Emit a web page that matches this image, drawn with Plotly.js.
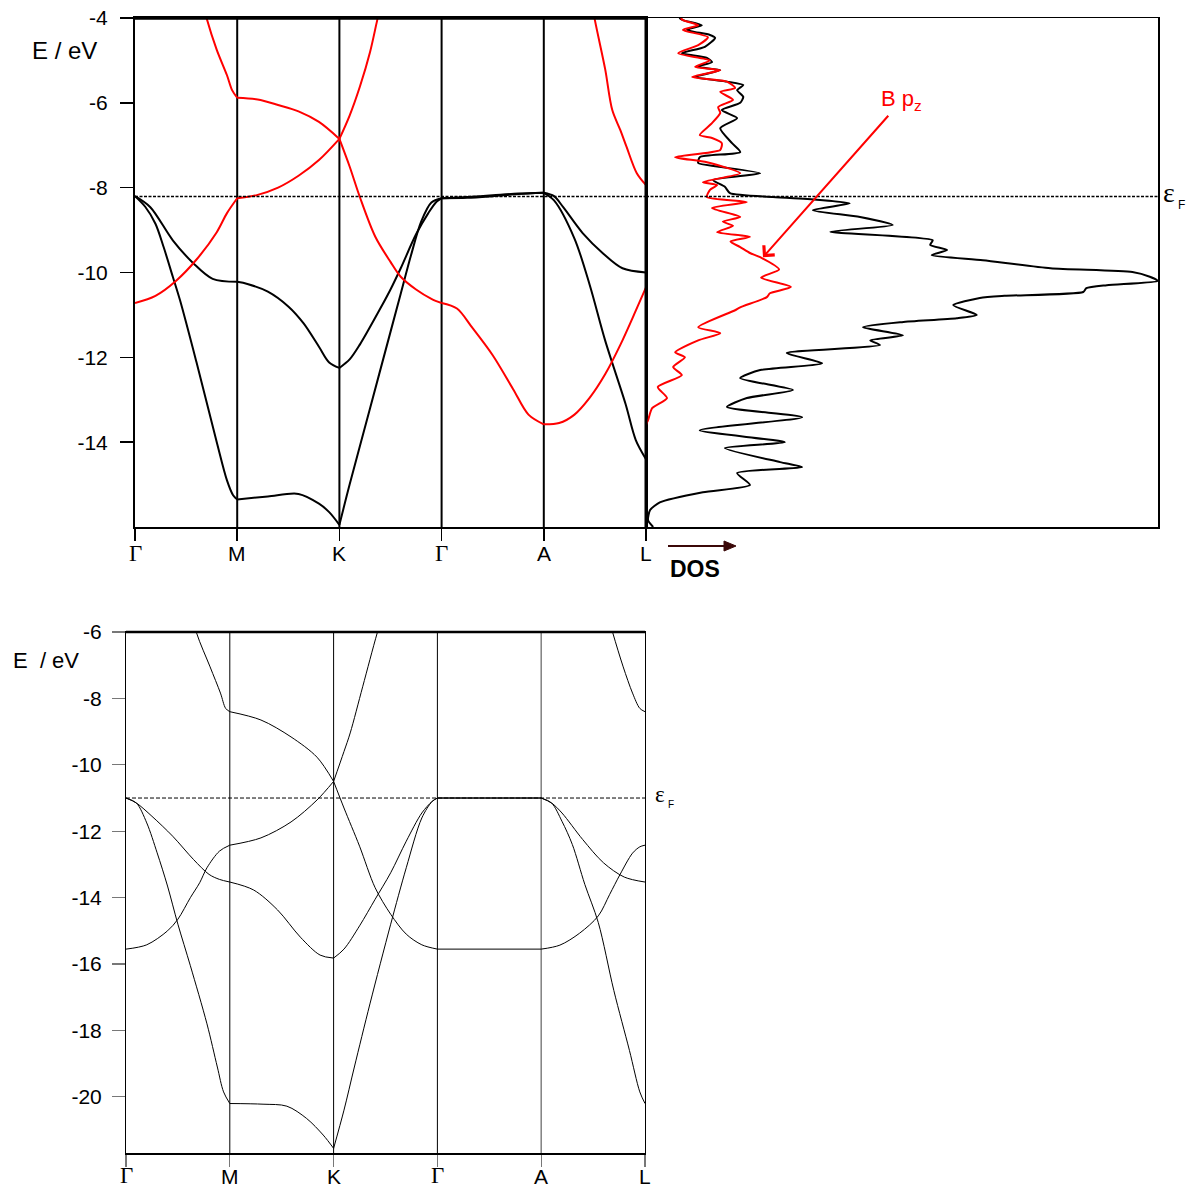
<!DOCTYPE html>
<html>
<head>
<meta charset="utf-8">
<script src="https://cdn.plot.ly/plotly-3.0.1.min.js"></script>
<style>
  html, body { margin: 0; padding: 0; background: #fff; }
  #chart { width: 1191px; height: 1189px; }
</style>
</head>
<body>
<div id="chart"></div>
<script>
// High-symmetry path Γ–M–K–Γ–A–L
const kTicks = [0, 1, 2, 3, 4, 5];
const kLabels = ['Γ', 'M', 'K', 'Γ', 'A', 'L'];
const eTicksTop = [-14, -12, -10, -8, -6, -4];
const eTicksBottom = [-20, -18, -16, -14, -12, -10, -8, -6];
const eFermiTop = -8.21;
const eFermiBottom = -11.0;

// ---- Upper band structure: σ bands (black) ----
const topSigma1K = [0, 0.1, 0.2, 0.28, 0.37, 0.44, 0.6, 0.8, 0.9, 0.96, 1.0, null,
                    1.0, 1.3, 1.6, 1.8, 1.9, 2.0, null,
                    2.0, 2.1, 2.3, 2.5, 2.6, 2.7, 2.8, 2.9, 3.0, null,
                    3.0, 3.25, 3.5, 3.75, 4.0, null,
                    4.0, 4.1, 4.3, 4.45, 4.6, 4.8, 4.9, 5.0];
const topSigma1E = [-8.2, -8.45, -8.85, -9.4, -10.1, -10.65, -12.1, -14.0, -14.9, -15.25, -15.35, null,
                    -15.35, -15.28, -15.22, -15.45, -15.65, -15.95, null,
                    -15.95, -15.0, -13.2, -11.4, -10.5, -9.6, -8.8, -8.35, -8.25, null,
                    -8.25, -8.24, -8.2, -8.15, -8.12, null,
                    -8.12, -8.3, -9.2, -10.3, -11.6, -13.1, -13.95, -14.4];
const topSigma2K = [0, 0.15, 0.37, 0.57, 0.76, 1.0, null,
                    1.0, 1.1, 1.3, 1.5, 1.65, 1.8, 1.9, 2.0, null,
                    2.0, 2.1, 2.2, 2.4, 2.5, 2.6, 2.75, 2.87, 2.95, 3.0, null,
                    3.0, 3.25, 3.5, 3.75, 4.0, null,
                    4.0, 4.1, 4.19, 4.38, 4.58, 4.77, 5.0];
const topSigma2E = [-8.2, -8.46, -9.24, -9.78, -10.15, -10.22, null,
                    -10.22, -10.27, -10.45, -10.8, -11.2, -11.75, -12.12, -12.25, null,
                    -12.25, -12.05, -11.7, -10.85, -10.4, -9.9, -9.1, -8.6, -8.33, -8.25, null,
                    -8.25, -8.22, -8.18, -8.14, -8.12, null,
                    -8.12, -8.2, -8.46, -9.07, -9.55, -9.9, -10.0];

// ---- Upper band structure: π bands (red) ----
const topPi1K = [0, 0.2, 0.4, 0.6, 0.8, 0.9, 1.0, null,
                 1.0, 1.2, 1.4, 1.6, 1.8, 2.0, null,
                 2.0, 2.1, 2.2, 2.3, 2.37, 2.45];
const topPi1E = [-10.72, -10.55, -10.2, -9.7, -9.05, -8.6, -8.25, null,
                 -8.25, -8.17, -8.0, -7.72, -7.35, -6.85, null,
                 -6.85, -6.3, -5.62, -4.8, -4.05, -3.2];
const topPi2K = [0.64, 0.7, 0.8, 0.9, 0.95, 1.0, null,
                 1.0, 1.2, 1.4, 1.6, 1.8, 2.0, null,
                 2.0, 2.1, 2.2, 2.35, 2.5, 2.6, 2.75, 2.9, 3.0, null,
                 3.0, 3.15, 3.3, 3.5, 3.7, 3.85, 4.0, null,
                 4.0, 4.15, 4.3, 4.45, 4.6, 4.75, 4.9, 5.0];
const topPi2E = [-3.4, -4.0, -4.75, -5.35, -5.7, -5.88, null,
                 -5.88, -5.92, -6.05, -6.2, -6.45, -6.85, null,
                 -6.85, -7.5, -8.22, -9.15, -9.75, -10.1, -10.4, -10.62, -10.72, null,
                 -10.72, -10.85, -11.3, -11.95, -12.75, -13.35, -13.58, null,
                 -13.58, -13.55, -13.35, -12.95, -12.4, -11.7, -10.9, -10.35];
const topPi3K = [4.42, 4.5, 4.6, 4.67, 4.75, 4.81, 4.91, 5.0];
const topPi3E = [-3.0, -4.05, -5.2, -6.17, -6.65, -7.04, -7.66, -7.94];

// ---- Density of states (arbitrary units, 0–100) ----
const dosTotalE = [-4.0, -4.05, -4.17, -4.28, -4.4, -4.47, -4.68, -4.83, -4.94, -5.04, -5.15, -5.23,
  -5.39, -5.5, -5.58, -5.7, -5.86, -6.0, -6.17, -6.36, -6.6, -6.95, -7.16, -7.28, -7.42, -7.5,
  -7.66, -7.82, -7.98, -8.13, -8.22, -8.29, -8.37, -8.53, -8.69, -8.88, -9.04, -9.24, -9.35,
  -9.47, -9.59, -9.71, -9.9, -9.99, -10.1, -10.2, -10.3, -10.37, -10.46, -10.55, -10.6, -10.77,
  -11.0, -11.08, -11.17, -11.29, -11.48, -11.6, -11.71, -11.9, -12.14, -12.3, -12.49, -12.77,
  -12.96, -13.17, -13.41, -13.72, -14.0, -14.14, -14.47, -14.59, -14.73, -15.01, -15.18, -15.42,
  -15.6, -15.84, -16.0];
const dosTotal = [6.5, 7.2, 10.9, 8.0, 12.5, 13.5, 11.5, 7.0, 11.9, 12.9, 10.0, 14.5,
  9.6, 15.8, 19.0, 17.8, 19.0, 18.4, 14.8, 17.8, 14.5, 16.8, 18.4, 10.5, 10.2, 13.9,
  22.3, 13.1, 15.4, 16.4, 24.8, 34.0, 39.8, 32.6, 41.8, 48.2, 36.0, 56.0, 55.5,
  58.8, 55.8, 65.8, 79.0, 95.0, 98.4, 100, 90.0, 86.0, 85.4, 70.0, 65.2, 60.0,
  64.6, 60.7, 50.0, 42.4, 50.2, 43.8, 45.7, 27.5, 34.4, 22.3, 18.4, 28.7,
  19.7, 15.8, 30.5, 10.5, 27.1, 15.4, 26.2, 30.5, 17.8, 20.3, 11.1, 2.7,
  0.8, 0.4, 1.4];
const dosBpzE = [-4.0, -4.05, -4.17, -4.28, -4.45, -4.64, -4.83, -5.0, -5.15, -5.23, -5.39, -5.5,
  -5.65, -5.74, -5.93, -6.1, -6.24, -6.5, -6.76, -6.83, -6.95, -7.11, -7.28, -7.4, -7.66, -7.87,
  -7.94, -8.05, -8.22, -8.34, -8.48, -8.69, -8.8, -8.9, -9.05, -9.16, -9.27, -9.4, -9.54, -9.64,
  -9.93, -10.12, -10.34, -10.49, -10.58, -10.82, -10.89, -11.29, -11.43, -11.6, -11.88, -12.0,
  -12.23, -12.42, -12.7, -12.96, -13.2, -13.48, -13.6, -16.0];
const dosBpz = [6.8, 7.2, 10.2, 7.2, 12.1, 10.2, 6.3, 12.5, 9.6, 14.5, 9.0, 15.8,
  17.4, 14.5, 17.0, 14.1, 14.5, 12.7, 10.5, 12.9, 14.8, 14.5, 5.7, 11.9, 18.4, 11.1,
  13.9, 12.5, 11.9, 19.7, 12.9, 18.4, 15.0, 17.0, 13.9, 20.3, 16.5, 18.4, 20.3, 22.3,
  26.0, 22.5, 28.3, 24.2, 23.6, 18.4, 17.4, 10.2, 14.5, 10.2, 5.7, 7.6,
  5.3, 7.0, 2.3, 4.1, 1.2, 0.4, 0, 0];

// ---- Lower band structure ----
const botBand1K = [0.6, 0.68, 0.81, 0.91, 0.96, 1.0, null,
                   1.0, 1.3, 1.59, 1.84, 2.0, null,
                   2.0, 2.1, 2.25, 2.4, 2.55, 2.7, 2.85, 3.0, null,
                   3.0, 4.0, null,
                   4.0, 4.18, 4.37, 4.55, 4.66, 4.76, 4.88, 4.95, 5.0];
const botBand1E = [-5.0, -6.03, -7.05, -7.84, -8.3, -8.4, null,
                   -8.4, -8.65, -9.16, -9.77, -10.5, null,
                   -10.5, -11.3, -12.45, -13.7, -14.5, -15.1, -15.42, -15.55, null,
                   -15.55, -15.55, null,
                   -15.55, -15.43, -15.07, -14.55, -13.9, -13.3, -12.66, -12.47, -12.42];
const botBand2K = [0, 0.2, 0.4, 0.5, 0.62, 0.71, 0.78, 0.9, 1.0, null,
                   1.0, 1.3, 1.59, 1.84, 2.0, null,
                   2.0, 2.1, 2.16, 2.28, 2.42, 2.52];
const botBand2E = [-15.55, -15.42, -15.0, -14.65, -14.0, -13.55, -13.1, -12.6, -12.42, null,
                   -12.42, -12.2, -11.72, -11.06, -10.5, null,
                   -10.5, -9.6, -9.04, -7.65, -6.03, -5.0];
const botBand3K = [0, 0.1, 0.2, 0.3, 0.4, 0.5, 0.62, 0.78, 0.88, 0.94, 1.0, null,
                   1.0, 1.32, 1.55, 1.74, 1.9, 2.0, null,
                   2.0, 2.1, 2.2, 2.35, 2.55, 2.7, 2.85, 2.95, 3.0, null,
                   3.0, 4.0, null,
                   4.0, 4.1, 4.2, 4.3, 4.42, 4.55, 4.7, 4.85, 4.95, 5.0];
const botBand3E = [-11.0, -11.15, -11.75, -12.65, -13.65, -14.8, -16.05, -17.8, -19.1, -19.85, -20.2, null,
                   -20.2, -20.22, -20.28, -20.65, -21.15, -21.55, null,
                   -21.55, -20.4, -19.1, -17.2, -14.8, -13.1, -11.6, -11.1, -11.0, null,
                   -11.0, -11.0, null,
                   -11.0, -11.15, -11.7, -12.4, -13.6, -14.75, -16.8, -18.6, -19.85, -20.2];
const botBand4K = [0, 0.1, 0.25, 0.45, 0.65, 0.8, 0.9, 1.0, null,
                   1.0, 1.23, 1.46, 1.68, 1.87, 2.0, null,
                   2.0, 2.1, 2.25, 2.4, 2.55, 2.7, 2.85, 2.95, 3.0, null,
                   3.0, 4.0, null,
                   4.0, 4.1, 4.2, 4.4, 4.6, 4.8, 5.0];
const botBand4E = [-11.0, -11.15, -11.55, -12.15, -12.85, -13.3, -13.45, -13.53, null,
                   -13.53, -13.77, -14.37, -15.19, -15.73, -15.82, null,
                   -15.82, -15.55, -14.85, -14.05, -13.25, -12.3, -11.45, -11.1, -11.0, null,
                   -11.0, -11.0, null,
                   -11.0, -11.15, -11.45, -12.25, -12.95, -13.38, -13.53];
const botBand5K = [4.6, 4.69, 4.79, 4.88, 4.95, 5.0];
const botBand5E = [-5.0, -6.03, -7.05, -7.84, -8.3, -8.4];

const FONT = 'Liberation Sans, Arial, sans-serif';
const SERIF = 'Liberation Serif, Times New Roman, serif';
const RED = '#ff0000';

function band(k, e, color, width, xa, ya) {
  return {
    x: k, y: e, xaxis: xa, yaxis: ya, type: 'scatter', mode: 'lines',
    line: { color: color, width: width, shape: 'spline', smoothing: 0.9 },
    connectgaps: false, hoverinfo: 'skip', showlegend: false
  };
}

const traces = [
  band(topSigma1K, topSigma1E, '#000', 2, 'x', 'y'),
  band(topSigma2K, topSigma2E, '#000', 2, 'x', 'y'),
  band(topPi1K, topPi1E, RED, 2, 'x', 'y'),
  band(topPi2K, topPi2E, RED, 2, 'x', 'y'),
  band(topPi3K, topPi3E, RED, 2, 'x', 'y'),
  {
    x: dosTotal, y: dosTotalE, xaxis: 'x2', yaxis: 'y2', type: 'scatter', mode: 'lines',
    line: { color: '#000', width: 2, shape: 'spline', smoothing: 0.6 }, hoverinfo: 'skip', showlegend: false
  },
  {
    x: dosBpz, y: dosBpzE, xaxis: 'x2', yaxis: 'y2', type: 'scatter', mode: 'lines',
    line: { color: RED, width: 2, shape: 'spline', smoothing: 0.6 }, hoverinfo: 'skip', showlegend: false
  },
  band(botBand1K, botBand1E, '#000', 1, 'x3', 'y3'),
  band(botBand2K, botBand2E, '#000', 1, 'x3', 'y3'),
  band(botBand3K, botBand3E, '#000', 1, 'x3', 'y3'),
  band(botBand4K, botBand4E, '#000', 1, 'x3', 'y3'),
  band(botBand5K, botBand5E, '#000', 1, 'x3', 'y3')
];

const W = 1191, H = 1189;
const px = v => v / W;
const py = v => 1 - v / H;

const shapes = [];
// vertical lines at interior high-symmetry points
kTicks.slice(1, 5).forEach(k => {
  shapes.push({ type: 'line', xref: 'x', yref: 'y domain', x0: k, x1: k, y0: 0, y1: 1,
                line: { color: '#000', width: 2 }, layer: 'below' });
  shapes.push({ type: 'line', xref: 'x3', yref: 'y3 domain', x0: k, x1: k, y0: 0, y1: 1,
                line: { color: k === 4 ? '#808080' : '#000', width: k === 4 ? 1.5 : 1 }, layer: 'below' });
});
// Fermi levels
shapes.push({ type: 'line', xref: 'x', yref: 'y', x0: 0, x1: 5, y0: eFermiTop, y1: eFermiTop,
              line: { color: '#000', width: 1.5, dash: '3px,1.5px' } });
shapes.push({ type: 'line', xref: 'x2', yref: 'y2', x0: 0, x1: 100, y0: eFermiTop, y1: eFermiTop,
              line: { color: '#000', width: 1.5, dash: '3px,1.5px' } });
shapes.push({ type: 'line', xref: 'x3', yref: 'y3', x0: 0, x1: 5, y0: eFermiBottom, y1: eFermiBottom,
              line: { color: '#000', width: 1, dash: '4px,2px' } });
// heavier frame edges
shapes.push({ type: 'line', xref: 'x domain', yref: 'y domain', x0: 0, x1: 1, y0: 1, y1: 1,
              line: { color: '#000', width: 3.5 } });
shapes.push({ type: 'line', xref: 'x3 domain', yref: 'y3 domain', x0: 0, x1: 1, y0: 1, y1: 1,
              line: { color: '#000', width: 2.5 } });
shapes.push({ type: 'line', xref: 'x domain', yref: 'y domain', x0: 1, x1: 1, y0: 0, y1: 1,
              line: { color: '#000', width: 3 } });
// DOS direction arrow
shapes.push({ type: 'line', xref: 'paper', yref: 'paper', x0: px(668), x1: px(726), y0: py(546), y1: py(546),
              line: { color: '#3b0808', width: 2 } });
shapes.push({ type: 'path', xref: 'paper', yref: 'paper',
              path: 'M ' + px(736) + ',' + py(546) + ' L ' + px(724) + ',' + py(541) + ' L ' + px(724) + ',' + py(551) + ' Z',
              fillcolor: '#3b0808', line: { color: '#3b0808', width: 1 } });

const annotations = [
  { xref: 'paper', yref: 'paper', x: px(64), y: py(50), xanchor: 'center', yanchor: 'middle',
    text: 'E / eV', showarrow: false, font: { family: FONT, size: 24, color: '#000' } },
  { xref: 'paper', yref: 'paper', x: px(46), y: py(660), xanchor: 'center', yanchor: 'middle',
    text: 'E&nbsp; / eV', showarrow: false, font: { family: FONT, size: 22, color: '#000' } },
  { xref: 'paper', yref: 'paper', x: px(695), y: py(569), xanchor: 'center', yanchor: 'middle',
    text: '<b>DOS</b>', showarrow: false, font: { family: FONT, size: 23, color: '#000' } },
  { xref: 'x2', yref: 'y2', x: 22.85, y: -9.64, ax: 139, ay: -157, text: 'B p<sub>z</sub>',
    showarrow: true, arrowhead: 4, arrowsize: 1.4, arrowwidth: 2, arrowcolor: RED, standoff: 0,
    font: { family: FONT, size: 22, color: RED } },
  // Fermi level labels
  { xref: 'x2', yref: 'y2', x: 100, y: eFermiTop, xanchor: 'left', yanchor: 'middle', xshift: 3, yshift: 4,
    text: 'ε', showarrow: false, font: { family: SERIF, size: 28, color: '#000' } },
  { xref: 'x2', yref: 'y2', x: 100, y: eFermiTop, xanchor: 'left', yanchor: 'middle', xshift: 18, yshift: -8,
    text: 'F', showarrow: false, font: { family: FONT, size: 12, color: '#000' } },
  { xref: 'x3', yref: 'y3', x: 5, y: eFermiBottom, xanchor: 'left', yanchor: 'middle', xshift: 8, yshift: 4,
    text: 'ε', showarrow: false, font: { family: SERIF, size: 23, color: '#000' } },
  { xref: 'x3', yref: 'y3', x: 5, y: eFermiBottom, xanchor: 'left', yanchor: 'middle', xshift: 21, yshift: -6,
    text: 'F', showarrow: false, font: { family: FONT, size: 10, color: '#000' } }
];

// k-point labels under both band panels
kTicks.forEach((k, i) => {
  const isGamma = kLabels[i] === 'Γ';
  const f = isGamma ? { family: SERIF, size: 23, color: '#000' } : { family: FONT, size: 21, color: '#000' };
  annotations.push({ xref: 'x', yref: 'paper', x: k, y: py(554), xanchor: 'center', yanchor: 'middle',
                     text: kLabels[i], showarrow: false, font: f });
  annotations.push({ xref: 'x3', yref: 'paper', x: k, y: py(1189), xanchor: 'center', yanchor: 'bottom',
                     borderpad: 0, text: kLabels[i], showarrow: false, font: f });
});

const tickFont = { family: FONT, size: 21, color: '#000' };

const layout = {
  width: W, height: H,
  margin: { l: 0, r: 0, t: 0, b: 0 },
  paper_bgcolor: '#fff', plot_bgcolor: 'rgba(0,0,0,0)',
  showlegend: false,
  xaxis: {
    domain: [px(135), px(646)], range: [0, 5], anchor: 'y',
    tickmode: 'array', tickvals: kTicks, showticklabels: false,
    ticks: 'outside', ticklen: 12, tickwidth: 1.5, tickcolor: '#000',
    showline: true, linecolor: '#000', linewidth: 2, mirror: true,
    showgrid: false, zeroline: false
  },
  yaxis: {
    domain: [py(527), py(18)], range: [-16, -4], anchor: 'x',
    tickmode: 'array', tickvals: eTicksTop, ticktext: eTicksTop.map(String), tickfont: tickFont,
    ticks: 'outside', ticklen: 13, tickwidth: 1.5, tickcolor: '#000', ticklabelstandoff: 8,
    showline: true, linecolor: '#000', linewidth: 2, mirror: true,
    showgrid: false, zeroline: false
  },
  xaxis2: {
    domain: [px(646), px(1158)], range: [0, 100], anchor: 'y2',
    showticklabels: false, ticks: '',
    showline: true, linecolor: '#000', linewidth: 1.5, mirror: true,
    showgrid: false, zeroline: false
  },
  yaxis2: {
    domain: [py(527), py(18)], range: [-16, -4], anchor: 'x2',
    showticklabels: false, ticks: '',
    showline: true, linecolor: '#000', linewidth: 1.5, mirror: true,
    showgrid: false, zeroline: false
  },
  xaxis3: {
    domain: [px(126), px(645)], range: [0, 5], anchor: 'y3',
    tickmode: 'array', tickvals: kTicks, showticklabels: false,
    ticks: 'outside', ticklen: 12, tickwidth: 1.2, tickcolor: '#777',
    showline: true, linecolor: '#000', linewidth: 1.5, mirror: true,
    showgrid: false, zeroline: false
  },
  yaxis3: {
    domain: [py(1153), py(632)], range: [-21.69, -6], anchor: 'x3',
    tickmode: 'array', tickvals: eTicksBottom, ticktext: eTicksBottom.map(String), tickfont: tickFont,
    ticks: 'outside', ticklen: 13, tickwidth: 1.2, tickcolor: '#777', ticklabelstandoff: 6,
    showline: true, linecolor: '#000', linewidth: 1, mirror: true,
    showgrid: false, zeroline: false
  },
  shapes: shapes,
  annotations: annotations
};

Plotly.newPlot('chart', traces, layout, { displayModeBar: false, staticPlot: true });
</script>
</body>
</html>
